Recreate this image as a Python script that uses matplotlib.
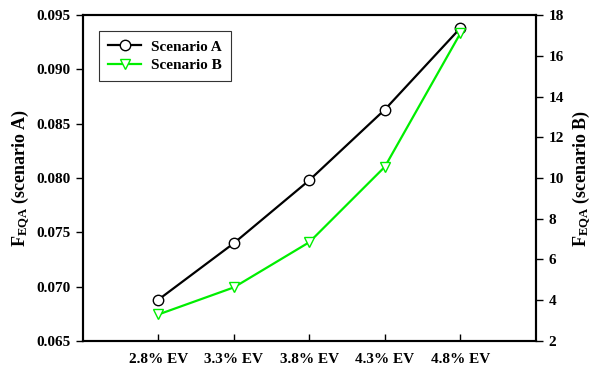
import matplotlib
matplotlib.use('Agg')
import matplotlib.pyplot as plt

plt.rcParams['font.family'] = 'Liberation Serif'
plt.rcParams['font.weight'] = 'bold'
plt.rcParams['axes.labelweight'] = 'bold'
plt.rcParams['mathtext.fontset'] = 'custom'
plt.rcParams['mathtext.rm'] = 'Liberation Serif:bold'
plt.rcParams['mathtext.it'] = 'Liberation Serif:bold'
plt.rcParams['mathtext.bf'] = 'Liberation Serif:bold'

categories = ['2.8% EV', '3.3% EV', '3.8% EV', '4.3% EV', '4.8% EV']
scenario_a = [0.0688, 0.0740, 0.0798, 0.0863, 0.0938]
scenario_b = [3.3, 4.63, 6.85, 10.55, 17.1]

x = list(range(len(categories)))

fig = plt.figure(figsize=(5.92, 3.69), dpi=100)
ax = fig.add_axes([0.140, 0.076, 0.765, 0.883])
ax2 = ax.twinx()

la, = ax.plot(x, scenario_a, color='black', lw=1.6, marker='o', ms=7.5,
              mfc='white', mec='black', mew=1.0, label='Scenario A', zorder=3)
lb, = ax2.plot(x, scenario_b, color='#00ee00', lw=1.6, marker='v', ms=7.5,
               mfc='white', mec='#00ee00', mew=1.0, label='Scenario B', zorder=2)

ax.set_xlim(-1, 5)
ax.set_ylim(0.065, 0.095)
ax.set_yticks([0.065, 0.070, 0.075, 0.080, 0.085, 0.090, 0.095])
ax.set_yticklabels(['%.3f' % v for v in ax.get_yticks()])
ax2.set_ylim(2, 18)
ax2.set_yticks(range(2, 19, 2))

ax.set_xticks(x)
ax.set_xticklabels(categories)
ax.tick_params(axis='x', direction='in', length=5, width=1, labelsize=11, pad=9)
ax.tick_params(axis='y', direction='out', length=5, width=1, labelsize=11, pad=4)
ax2.tick_params(axis='y', direction='out', length=5, width=1, labelsize=11, pad=4)

for a in (ax, ax2):
    for s in a.spines.values():
        s.set_linewidth(1.5)

ax.set_ylabel(r'$\mathrm{F}_{\mathrm{EQA}}$ (scenario A)', fontsize=13, labelpad=3)
ax2.set_ylabel(r'$\mathrm{F}_{\mathrm{EQA}}$ (scenario B)', fontsize=13, labelpad=5)

leg = ax.legend(handles=[la, lb], loc='upper left', bbox_to_anchor=(0.018, 0.975),
                fancybox=False, edgecolor='#333333', framealpha=1, fontsize=11,
                handlelength=2.2, borderpad=0.6, labelspacing=0.3, handletextpad=0.6)
leg.get_frame().set_linewidth(0.8)

fig.savefig('out.png', dpi=100)
